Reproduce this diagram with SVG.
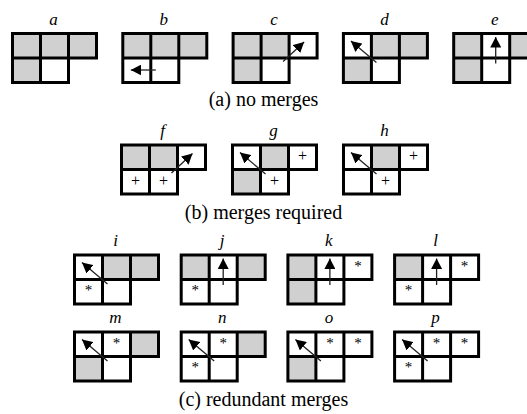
<svg xmlns="http://www.w3.org/2000/svg" xmlns:xlink="http://www.w3.org/1999/xlink" width="527" height="414" viewBox="0 0 527 414">
<style>
.gray{fill:#d0d0d0}
.grid{fill:none;stroke:#000;stroke-width:3;stroke-linecap:square;stroke-linejoin:miter}
.arr{stroke:#222;stroke-width:1.3;fill:none;marker-end:url(#ah)}
.lbl{font-family:"Liberation Serif","Times New Roman",serif;font-style:italic;font-size:17px;text-anchor:middle;fill:#000}
.cap{font-family:"Liberation Serif","Times New Roman",serif;font-size:20px;text-anchor:middle;fill:#000}
.pl{font-family:"Liberation Serif","Times New Roman",serif;font-size:16px;text-anchor:middle;fill:#000}
.st{font-family:"Liberation Serif","Times New Roman",serif;font-size:15px;text-anchor:middle;fill:#000}
</style>
<defs>
<marker id="ah" markerUnits="userSpaceOnUse" markerWidth="11" markerHeight="11" refX="10.5" refY="5.5" orient="auto"><path d="M0,0 L10.5,5.5 L0,11 z" fill="#000"/></marker>
<path id="grid" class="grid" d="M0 0H84V24.5H0Z M0 24.5V49H56V24.5 M28 0V49 M56 0V24.5"/>
<rect id="t0" class="gray" x="0" y="0" width="28" height="24.5"/>
<rect id="t1" class="gray" x="28" y="0" width="28" height="24.5"/>
<rect id="t2" class="gray" x="56" y="0" width="28" height="24.5"/>
<rect id="b0" class="gray" x="0" y="24.5" width="28" height="24.5"/>
<path id="aL" class="arr" d="M33 36.5L8 36.5"/>
<path id="aNE" class="arr" d="M50 28L71 8.5"/>
<path id="aNW" class="arr" d="M33 29L7.5 7.5"/>
<path id="aU" class="arr" d="M42 30L42 3.5"/>
</defs>

<!-- row 1 -->
<g id="box-a" transform="translate(12.5,33.5)">
<text class="lbl" x="41" y="-9">a</text>
<use xlink:href="#t0"/><use xlink:href="#t1"/><use xlink:href="#t2"/><use xlink:href="#b0"/>
<use xlink:href="#grid"/>
</g>
<g id="box-b" transform="translate(122.8,33.5)">
<text class="lbl" x="41" y="-9">b</text>
<use xlink:href="#t0"/><use xlink:href="#t1"/><use xlink:href="#t2"/>
<use xlink:href="#grid"/>
<use xlink:href="#aL"/>
</g>
<g id="box-c" transform="translate(233.1,33.5)">
<text class="lbl" x="41" y="-9">c</text>
<use xlink:href="#t0"/><use xlink:href="#t1"/><use xlink:href="#b0"/>
<use xlink:href="#grid"/>
<use xlink:href="#aNE"/>
</g>
<g id="box-d" transform="translate(343.4,33.5)">
<text class="lbl" x="41" y="-9">d</text>
<use xlink:href="#t1"/><use xlink:href="#t2"/><use xlink:href="#b0"/>
<use xlink:href="#grid"/>
<use xlink:href="#aNW"/>
</g>
<g id="box-e" transform="translate(453.7,33.5)">
<text class="lbl" x="41" y="-9">e</text>
<use xlink:href="#t0"/><use xlink:href="#t2"/><use xlink:href="#b0"/>
<use xlink:href="#grid"/>
<use xlink:href="#aU"/>
</g>
<text class="cap" x="263.5" y="106">(a) no merges</text>

<!-- row 2 -->
<g id="box-f" transform="translate(121.5,145)">
<text class="lbl" x="41" y="-9">f</text>
<use xlink:href="#t0"/><use xlink:href="#t1"/>
<use xlink:href="#grid"/>
<text class="pl" x="14" y="40.5">+</text><text class="pl" x="42" y="40.5">+</text>
<use xlink:href="#aNE"/>
</g>
<g id="box-g" transform="translate(232.5,145)">
<text class="lbl" x="41" y="-9">g</text>
<use xlink:href="#t1"/><use xlink:href="#b0"/>
<use xlink:href="#grid"/>
<text class="pl" x="70" y="16">+</text><text class="pl" x="42" y="40.5">+</text>
<use xlink:href="#aNW"/>
</g>
<g id="box-h" transform="translate(343.5,145)">
<text class="lbl" x="41" y="-9">h</text>
<use xlink:href="#t1"/>
<use xlink:href="#grid"/>
<text class="pl" x="70" y="16">+</text><text class="pl" x="42" y="40.5">+</text>
<use xlink:href="#aNW"/>
</g>
<text class="cap" x="263.5" y="219">(b) merges required</text>

<!-- row 3 -->
<g id="box-i" transform="translate(74.5,255)">
<text class="lbl" x="41" y="-9">i</text>
<use xlink:href="#t1"/><use xlink:href="#t2"/>
<use xlink:href="#grid"/>
<text class="st" x="14" y="40">*</text>
<use xlink:href="#aNW"/>
</g>
<g id="box-j" transform="translate(181.2,255)">
<text class="lbl" x="41" y="-9">j</text>
<use xlink:href="#t0"/><use xlink:href="#t2"/>
<use xlink:href="#grid"/>
<text class="st" x="14" y="40">*</text>
<use xlink:href="#aU"/>
</g>
<g id="box-k" transform="translate(287.9,255)">
<text class="lbl" x="41" y="-9">k</text>
<use xlink:href="#t0"/><use xlink:href="#b0"/>
<use xlink:href="#grid"/>
<text class="st" x="70" y="15.5">*</text>
<use xlink:href="#aU"/>
</g>
<g id="box-l" transform="translate(394.6,255)">
<text class="lbl" x="41" y="-9">l</text>
<use xlink:href="#t0"/>
<use xlink:href="#grid"/>
<text class="st" x="70" y="15.5">*</text><text class="st" x="14" y="40">*</text>
<use xlink:href="#aU"/>
</g>

<!-- row 4 -->
<g id="box-m" transform="translate(74.5,332)">
<text class="lbl" x="41" y="-9">m</text>
<use xlink:href="#t2"/><use xlink:href="#b0"/>
<use xlink:href="#grid"/>
<text class="st" x="42" y="15.5">*</text>
<use xlink:href="#aNW"/>
</g>
<g id="box-n" transform="translate(181.2,332)">
<text class="lbl" x="41" y="-9">n</text>
<use xlink:href="#t2"/>
<use xlink:href="#grid"/>
<text class="st" x="42" y="15.5">*</text><text class="st" x="14" y="40">*</text>
<use xlink:href="#aNW"/>
</g>
<g id="box-o" transform="translate(287.9,332)">
<text class="lbl" x="41" y="-9">o</text>
<use xlink:href="#b0"/>
<use xlink:href="#grid"/>
<text class="st" x="42" y="15.5">*</text><text class="st" x="70" y="15.5">*</text>
<use xlink:href="#aNW"/>
</g>
<g id="box-p" transform="translate(394.6,332)">
<text class="lbl" x="41" y="-9">p</text>
<use xlink:href="#grid"/>
<text class="st" x="42" y="15.5">*</text><text class="st" x="70" y="15.5">*</text><text class="st" x="14" y="40">*</text>
<use xlink:href="#aNW"/>
</g>
<text class="cap" x="263.5" y="406">(c) redundant merges</text>

<g id="connectors"></g>
</svg>
